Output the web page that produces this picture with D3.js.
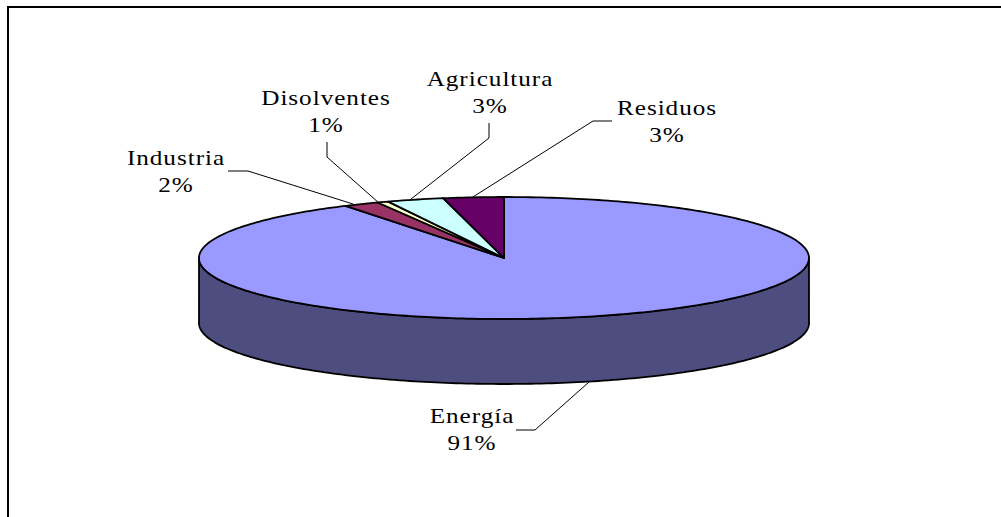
<!DOCTYPE html>
<html><head><meta charset="utf-8">
<script src="https://cdnjs.cloudflare.com/ajax/libs/d3/7.9.0/d3.min.js"></script>
<style>html,body{margin:0;background:#fff}svg{display:block}text{font-family:"Liberation Serif",serif;font-size:21px;fill:#000;letter-spacing:.8px}</style>
</head><body><svg width="1001" height="517"></svg>
<script>
const categories = ["Energía","Industria","Disolventes","Agricultura","Residuos"];
const shares = [91.3,1.9,0.6,3.0,3.2];
const colors = ["#9999ff","#993366","#ffffcc","#ccffff","#660066"];
const sideColor = "#4d4d80";

// layout of the labels (not data)
const labelPos = [[472,423],[176,165],[326,105],[490,86],[667,115]];
const elbows = [[[516,430],[535,430]],[[228,171],[248,171]],[[327,142],[327,157]],[[489,123],[489,138]],[[612,121],[593,121]]];
const tipShift = [3,-8,-5,-5,-1];

const W=1001,H=517,cx=504,cy=258,rx=305,ry=61,depth=65,sx=1.2;
const svg=d3.select("svg");
const px=d3.scaleLinear().domain([-1,1]).range([cx-rx,cx+rx]);
const py=d3.scaleLinear().domain([-1,1]).range([cy-ry,cy+ry]);
const pt=(a,dy=0)=>[px(Math.sin(a)),py(-Math.cos(a))+dy];
const line=d3.line();
const pie=d3.pie().sort(null).startAngle(0).endAngle(2*Math.PI)(shares);
const total=d3.sum(shares);

svg.append("path").attr("d",line([[8,H],[8,7],[W,7]])).attr("fill","none").attr("stroke","#000").attr("stroke-width",2);

// side wall (front half of the rim)
const front=d3.range(Math.PI/2,3*Math.PI/2+1e-6,Math.PI/180);
const wall=[...front.map(a=>pt(a)),...front.slice().reverse().map(a=>pt(a,depth))];
svg.append("path").attr("d",line(wall)+"Z").attr("fill",sideColor).attr("stroke","#000").attr("stroke-width",1.8).attr("stroke-linejoin","round");

// top slices
svg.selectAll("path.slice").data(pie).join("path").attr("class","slice")
  .attr("d",d=>{
    const n=Math.max(2,Math.ceil((d.endAngle-d.startAngle)/(Math.PI/180)));
    const arc=d3.range(n+1).map(i=>pt(d.startAngle+(d.endAngle-d.startAngle)*i/n));
    return line([[cx,cy],...arc])+"Z";
  })
  .attr("fill",(d,i)=>colors[i]).attr("stroke","#000").attr("stroke-width",1.8).attr("stroke-linejoin","round");

// leader lines
svg.selectAll("path.leader").data(pie).join("path").attr("class","leader")
  .attr("d",(d,i)=>{
    const mid=(d.startAngle+d.endAngle)/2, p=pt(mid,Math.cos(mid)<0?depth:0);
    return line([...elbows[i],[p[0]+tipShift[i],p[1]]]);
  }).attr("fill","none").attr("stroke","#000").attr("stroke-width",1);

// labels
const lab=svg.selectAll("g.lab").data(categories).join("g").attr("class","lab")
  .attr("transform",(d,i)=>`translate(${labelPos[i][0]},${labelPos[i][1]}) scale(${sx},1)`);
lab.append("text").attr("text-anchor","middle").text(d=>d);
lab.append("text").attr("text-anchor","middle").attr("y",27.5).text((d,i)=>Math.round(shares[i]/total*100)+"%");
</script></body></html>
